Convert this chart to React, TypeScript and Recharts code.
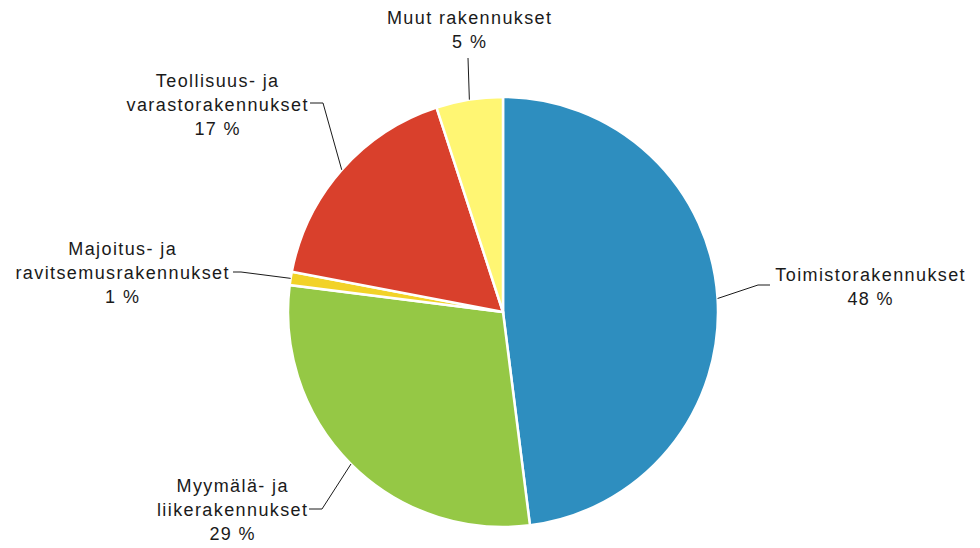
import { PieChart, Pie, Cell } from 'recharts';

// building types, clockwise from 12 o'clock
const categories = [
  'Toimistorakennukset',
  'Myymälä- ja liikerakennukset',
  'Majoitus- ja ravitsemusrakennukset',
  'Teollisuus- ja varastorakennukset',
  'Muut rakennukset',
];
const labelRows = [
  ['Toimistorakennukset'],
  ['Myymälä- ja', 'liikerakennukset'],
  ['Majoitus- ja', 'ravitsemusrakennukset'],
  ['Teollisuus- ja', 'varastorakennukset'],
  ['Muut rakennukset'],
];
const shares = [48, 29, 1, 17, 5];
const colors = ['#2E8EBF', '#95C845', '#F2D228', '#D9402C', '#FFF673'];

const data = categories.map((name, i) => ({ name, value: shares[i] }));

// label placement (relative to pie centre): leader elbow, leader end, text block centre
const layout = [
  { elbow: [255, -27], end: [267, -27], text: [367, -25] },
  { elbow: [-181, 197], end: [-194, 197], text: [-271, 198] },
  { elbow: [-262, -40], end: [-270, -40], text: [-381, -39] },
  { elbow: [-180, -209], end: [-193, -209], text: [-286, -207] },
  { elbow: [-35, -254], end: [-35, -254], text: [-34, -282] },
];

const CX = 503;
const CY = 312;
const R = 215;
const RAD = Math.PI / 180;
const LINE_H = 24;
const font = "'Liberation Sans', Arial, Helvetica, sans-serif";

const renderLabel = (p: any) => {
  const { cx, cy, midAngle, outerRadius, index, value } = p;
  const L = layout[index];
  const sx = cx + outerRadius * Math.cos(-midAngle * RAD);
  const sy = cy + outerRadius * Math.sin(-midAngle * RAD);
  const rows = [...labelRows[index], `${value} %`];
  const tx = cx + L.text[0];
  const top = cy + L.text[1] - ((rows.length - 1) * LINE_H) / 2;
  return (
    <g>
      <polyline
        points={`${sx},${sy} ${cx + L.elbow[0]},${cy + L.elbow[1]} ${cx + L.end[0]},${cy + L.end[1]}`}
        fill="none"
        stroke="#1a1a1a"
        strokeWidth={1}
      />
      <text
        x={tx}
        y={top}
        textAnchor="middle"
        fill="#1a1a1a"
        fontSize={18}
        fontFamily={font}
        letterSpacing={1.4}
      >
        {rows.map((r, i) => (
          <tspan key={i} x={tx + 0.7} y={top + i * LINE_H} dominantBaseline="central">
            {r}
          </tspan>
        ))}
      </text>
    </g>
  );
};

export default function App() {
  return (
    <div style={{ position: 'absolute', left: 0, top: 0, width: 980, height: 548, background: '#fff' }}>
      <PieChart width={980} height={548} margin={{ top: 0, right: 0, bottom: 0, left: 0 }}>
        <Pie
          data={data}
          dataKey="value"
          nameKey="name"
          cx={CX}
          cy={CY}
          outerRadius={R}
          startAngle={90}
          endAngle={-270}
          stroke="#fff"
          strokeWidth={2.5}
          label={renderLabel}
          labelLine={false}
          isAnimationActive={false}
        >
          {data.map((d, i) => (
            <Cell key={d.name} fill={colors[i]} />
          ))}
        </Pie>
      </PieChart>
    </div>
  );
}
